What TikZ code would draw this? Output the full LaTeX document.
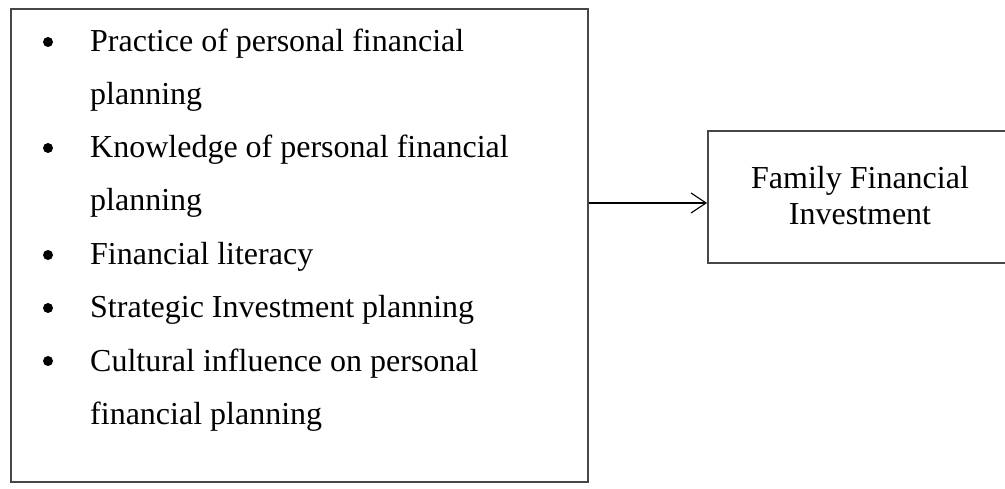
\documentclass[tikz,border=0pt]{standalone}
\usepackage{fontspec}
\setmainfont{Liberation Serif}
\usetikzlibrary{arrows.meta}
\begin{document}
\begin{tikzpicture}[x=1pt,y=-1pt,
  frame/.style={draw=black!72,line width=1.6pt,inner sep=0pt,anchor=north west},
  txt/.style={font=\fontsize{32}{36}\selectfont,inner sep=0pt,anchor=base west},
  ctxt/.style={font=\fontsize{32}{36}\selectfont,inner sep=0pt,anchor=base},
  dot/.style={circle,fill=black,inner sep=0pt,minimum size=10pt},
  link/.style={line width=1.1pt,-{Straight Barb[length=15pt,width=20pt,line width=1.1pt]}}]
\useasboundingbox (0,0) rectangle (1005,489);

% boxes
\node[frame,minimum width=577pt,minimum height=473pt] (factors) at (10,8) {};
\node[frame,minimum width=303pt,minimum height=132pt] (outcome) at (707,130) {};

% bulleted list
\foreach \i/\y in {1/42,3/148,5/255,6/308,7/361}
  \node[dot] (b\i) at (48,\y) {};
\node[txt] (l1) at (90,52) {Practice of personal financial};
\node[txt] (l2) at (90,105) {planning};
\node[txt] (l3) at (90,158) {Knowledge of personal financial};
\node[txt] (l4) at (90,211) {planning};
\node[txt] (l5) at (90,265) {Financial literacy};
\node[txt] (l6) at (90,318) {Strategic Investment planning};
\node[txt] (l7) at (90,371) {Cultural influence on personal};
\node[txt] (l8) at (90,424) {financial planning};

% outcome label
\node[ctxt] (o1) at (860,189) {Family Financial};
\node[ctxt] (o2) at (860,225) {Investment};

% connector
\coordinate (tap) at (factors.east |- 0,203);
\draw[link] (tap) -- (tap -| outcome.west);
\end{tikzpicture}
\end{document}
